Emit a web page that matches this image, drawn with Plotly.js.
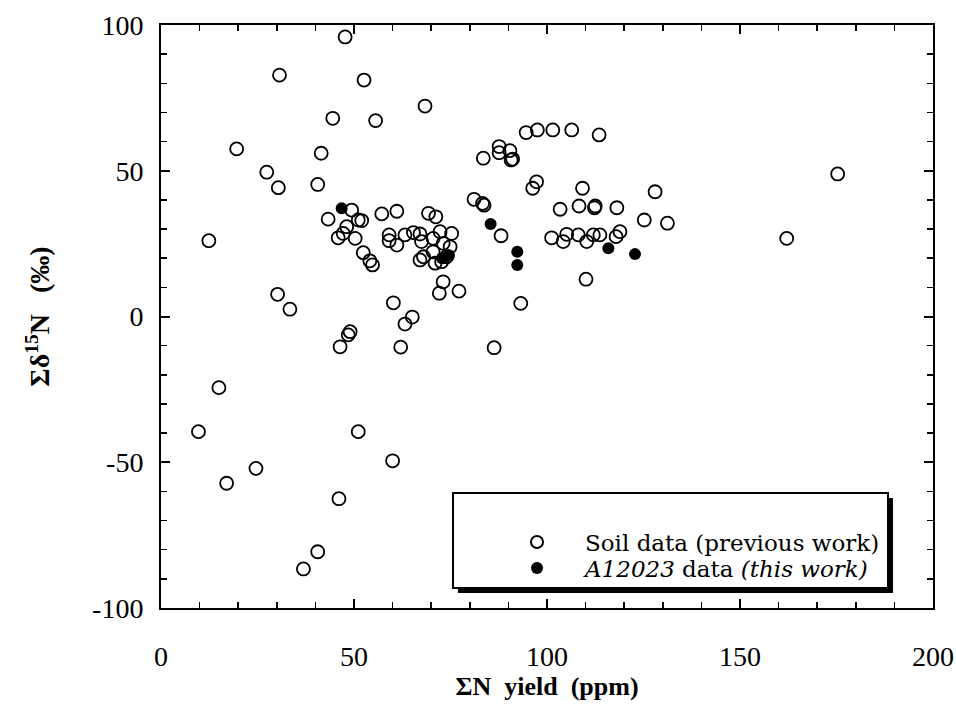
<!DOCTYPE html>
<html>
<head>
<meta charset="utf-8">
<script src="https://cdn.plot.ly/plotly-3.0.1.min.js"></script>
<style>html,body{margin:0;padding:0;background:#fff;}#chart{width:956px;height:704px;}</style>
</head>
<body>
<div id="chart"></div>
<script>
// Soil data (previous work): open circles
const soilX = [47.7,30.7,52.6,44.5,55.6,19.6,41.5,27.4,30.4,40.6,49.4,57.2,61.1,43.3,51.1,52.0,48.1,47.2,45.9,50.3,
  59.1,59.1,61.1,63.2,52.4,54.1,54.8,12.4,30.2,33.4,60.2,63.2,65.1,49.0,48.5,46.4,62.1,15.0,9.7,51.1,
  60.0,24.6,17.0,46.1,40.6,36.9,68.4,94.6,97.5,101.5,106.4,113.5,83.5,87.6,87.6,90.4,91.1,90.7,97.3,96.3,
  109.2,128.0,81.1,83.3,103.4,108.3,112.3,112.5,118.1,125.2,88.1,101.2,104.2,105.1,108.1,110.3,112.0,113.7,117.9,118.9,
  110.1,73.1,72.1,77.2,69.3,71.2,65.4,67.1,67.5,70.5,72.3,75.3,73.1,74.9,70.5,67.1,71.0,72.7,74.0,68.0,
  131.2,175.3,162.1,93.2,86.3,83.7];
const soilY = [95.9,82.8,81.1,68.0,67.2,57.5,56.0,49.5,44.2,45.3,36.5,35.2,36.1,33.4,33.1,32.9,30.8,28.5,27.0,26.8,
  28.0,26.0,24.5,28.0,21.9,19.1,17.7,26.0,7.6,2.5,4.7,-2.6,-0.2,-5.2,-6.3,-10.4,-10.5,-24.4,-39.5,-39.5,
  -49.5,-52.1,-57.2,-62.5,-80.7,-86.6,72.2,63.1,64.0,64.0,64.0,62.3,54.3,58.3,56.2,56.9,54.0,53.7,46.2,44.0,
  44.0,42.8,40.2,38.8,36.8,37.9,37.3,37.9,37.3,33.1,27.7,27.0,25.7,28.2,28.0,25.7,28.0,28.0,27.4,29.1,
  12.8,11.9,8.0,8.7,35.4,34.2,28.8,28.3,25.7,26.8,29.1,28.5,25.1,23.9,22.2,19.4,18.3,18.8,20.5,20.5,
  32.0,48.9,26.8,4.5,-10.7,38.2];
// A12023 data (this work): filled circles
const a12023X = [46.8,85.4,92.3,92.3,115.9,122.8,72.8,74.6];
const a12023Y = [37.1,31.7,22.2,17.7,23.4,21.4,20.0,21.0];

const xTickVals = [0,50,100,150,200];
const xTickText = ['0','50','100','150','200'];
const yTickVals = [-100,-50,0,50,100];
const yTickText = ['-100','-50','0','50','100'];

// plot area in pixels
const L = 161, R = 933, T = 25, B = 608, W = 956, H = 704;
const px = v => (v - L) / (R - L);
const py = v => (B - v) / (B - T);

const serif = 'Liberation Serif, Times New Roman, serif';
const legendFont = {family: 'DejaVu Serif, serif', size: 23, color: '#000'};

const traces = [
  {x: soilX, y: soilY, type: 'scatter', mode: 'markers', name: 'Soil data (previous work)', legend: 'legend',
   marker: {symbol: 'circle-open', size: 13, color: '#000', line: {width: 1.8, color: '#000'}}},
  {x: a12023X, y: a12023Y, type: 'scatter', mode: 'markers', name: '<i>A12023</i> data <i>(this work)</i>', legend: 'legend2',
   marker: {symbol: 'circle', size: 12, color: '#000', line: {width: 0}}}
];

const axisCommon = {
  showline: true, linecolor: '#000', linewidth: 2, mirror: 'allticks',
  ticks: 'inside', ticklen: 9, tickwidth: 2, tickcolor: '#000',
  showgrid: false, zeroline: false,
  tickfont: {family: serif, size: 28, color: '#000'},
  minor: {ticks: 'inside', ticklen: 6, tickwidth: 1.5, tickcolor: '#000', dtick: 10, showgrid: false}
};

const legendCommon = {
  xanchor: 'left', yanchor: 'middle',
  bgcolor: 'rgba(0,0,0,0)', borderwidth: 0,
  font: legendFont, itemsizing: 'constant', itemwidth: 86
};

const layout = {
  width: W, height: H,
  margin: {l: L, r: W - R, t: T, b: H - B},
  paper_bgcolor: '#fff', plot_bgcolor: '#fff',
  showlegend: true,
  xaxis: Object.assign({}, axisCommon, {
    range: [0, 200], tickmode: 'array', tickvals: xTickVals, ticktext: xTickText,
    ticklabelstandoff: 22,
    title: {text: '<b>ΣN  yield  (ppm)</b>', font: {family: serif, size: 26, color: '#000'}, standoff: 2}
  }),
  yaxis: Object.assign({}, axisCommon, {
    range: [-100, 100], tickmode: 'array', tickvals: yTickVals, ticktext: yTickText,
    ticklabelstandoff: 10,
    title: {text: '<b>Σδ<sup>15</sup>N\u00a0\u00a0\u00a0(‰)</b>', font: {family: serif, size: 28, color: '#000'}, standoff: 34}
  }),
  legend: Object.assign({}, legendCommon, {x: px(489), y: py(542)}),
  legend2: Object.assign({}, legendCommon, {x: px(489), y: py(568)}),
  shapes: [
    {type: 'rect', xref: 'paper', yref: 'paper', x0: px(458), x1: px(893), y0: py(498), y1: py(593),
     fillcolor: '#000', line: {width: 0}, layer: 'above'},
    {type: 'rect', xref: 'paper', yref: 'paper', x0: px(453), x1: px(888), y0: py(493), y1: py(588),
     fillcolor: '#fff', line: {width: 2, color: '#000'}, layer: 'above'}
  ]
};

Plotly.newPlot('chart', traces, layout, {staticPlot: true, displayModeBar: false});
</script>
</body>
</html>
